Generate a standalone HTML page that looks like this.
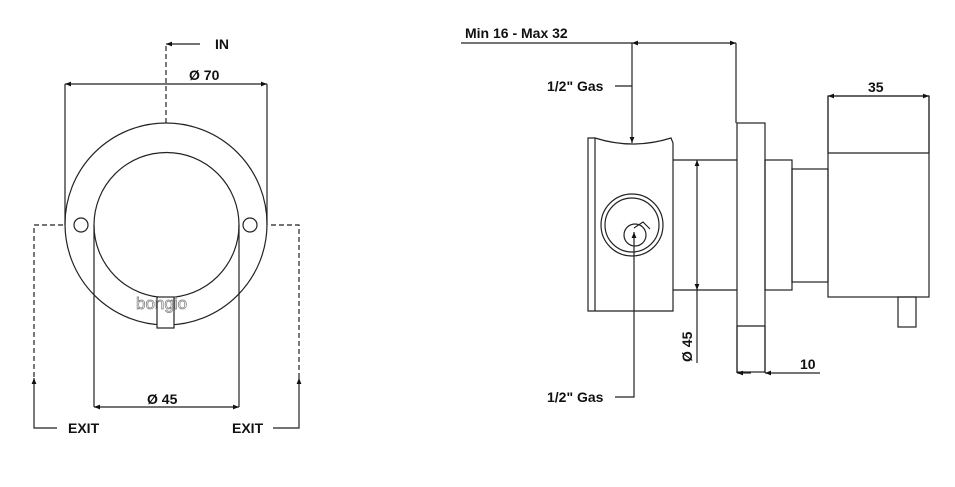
<!DOCTYPE html>
<html><head><style>body{margin:0;background:#fff}svg{display:block}text{font-family:"Liberation Sans",sans-serif;font-weight:bold;font-size:14px;fill:#111}</style></head><body>
<svg width="955" height="487" viewBox="0 0 955 487" xmlns="http://www.w3.org/2000/svg">
<defs><marker id="a" viewBox="0 0 10 10" refX="10" refY="5" markerWidth="12" markerHeight="6" orient="auto-start-reverse" markerUnits="userSpaceOnUse"><path d="M0,1 L10,5 L0,9 z" fill="#111"/></marker></defs>
<g fill="none" stroke="#222" stroke-width="1.2">
<!-- left view -->
<circle cx="166" cy="224" r="101"/>
<circle cx="166.5" cy="225" r="72.5"/>
<circle cx="81" cy="225" r="7"/>
<circle cx="250" cy="225" r="7"/>
<rect x="157" y="297" width="17" height="31" fill="#fff"/>
<path d="M166 123 V44" stroke-dasharray="5,3"/>
<path d="M200 44 H166" marker-end="url(#a)"/>
<path d="M65 225 V84 M267 225 V84"/>
<path d="M65 84 H267" marker-start="url(#a)" marker-end="url(#a)"/>
<path d="M94 225 V407 M239 225 V407"/>
<path d="M94 407 H239" marker-start="url(#a)" marker-end="url(#a)"/>
<path d="M63 225 H34 V380 M271 225 H299 V380" stroke-dasharray="5,3"/>
<path d="M57 428 H34 V378" marker-end="url(#a)"/>
<path d="M273 428 H299 V378" marker-end="url(#a)"/>
<!-- right view -->
<path d="M595 138 H588 V311 H673 V290 M673 160 V143 L671 138 Q633 150 595 138 V311"/>
<path d="M673 160 V290"/>
<circle cx="632" cy="225" r="31"/>
<circle cx="632" cy="225" r="27"/>
<circle cx="635" cy="235" r="11"/>
<path d="M634 228 L643 222 L650 229"/>
<path d="M673 160 H737 M673 290 H737"/>
<rect x="737" y="123" width="28" height="249"/>
<path d="M737 326 H765"/>
<rect x="765" y="160" width="27" height="130"/>
<rect x="792" y="169" width="36" height="113"/>
<rect x="828" y="96" width="101" height="201"/>
<path d="M828 153 H929"/>
<rect x="898" y="297" width="18" height="30"/>
<path d="M461 43 H632"/>
<path d="M632 43 H736" marker-start="url(#a)" marker-end="url(#a)"/>
<path d="M736 43 V123"/>
<path d="M615 86 H632"/>
<path d="M632 43 V143" marker-end="url(#a)"/>
<path d="M828 96 V153 M929 96 V153"/>
<path d="M828 96 H929" marker-start="url(#a)" marker-end="url(#a)"/>
<path d="M697 290 V363"/>
<path d="M697 160 V290" marker-start="url(#a)" marker-end="url(#a)"/>
<path d="M737 326 V373 M765 326 V373"/>
<path d="M737 373 H751" marker-start="url(#a)"/>
<path d="M820 373 H765" marker-end="url(#a)"/>
<path d="M615 397 H634 V232" marker-end="url(#a)"/>
</g>
<text x="136" y="309" style="font-family:'Liberation Sans',sans-serif;font-weight:normal;font-size:17px;fill:none;stroke:#777;stroke-width:0.7">bongio</text>
<text x="215" y="49">IN</text>
<text x="189" y="80">Ø 70</text>
<text x="147" y="404">Ø 45</text>
<text x="68" y="433">EXIT</text>
<text x="232" y="433">EXIT</text>
<text x="465" y="38">Min 16 - Max 32</text>
<text x="547" y="91">1/2" Gas</text>
<text x="868" y="92">35</text>
<text x="800" y="369">10</text>
<text x="547" y="402">1/2" Gas</text>
<text transform="translate(692,362) rotate(-90)">Ø 45</text>
</svg>
</body></html>
